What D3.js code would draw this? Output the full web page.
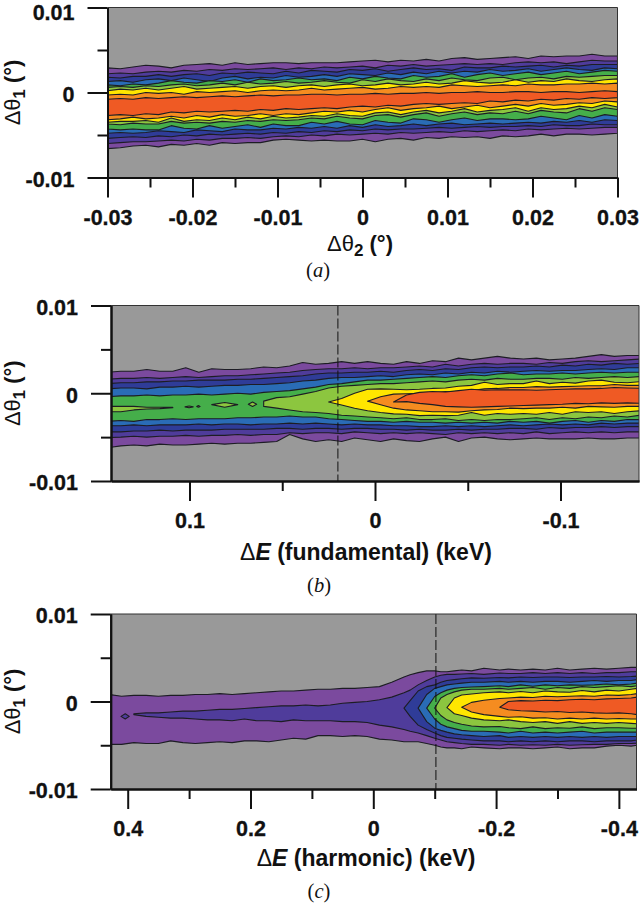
<!DOCTYPE html>
<html>
<head>
<meta charset="utf-8">
<script src="https://cdn.jsdelivr.net/npm/d3@7"></script>
<style>
	body { margin: 0; background: #fff; }
	text { font-family: "Liberation Sans", Arial, sans-serif; font-weight: bold; fill: #111; }
</style>
</head>
<body>
<svg id="chart" width="640" height="910"></svg>
<script>
// contour band colours, outermost band first
var bandColors = ["#7b4a9e", "#4f3c9b", "#2f3c98", "#2a6cb6", "#45ae4a", "#8cc63f", "#ffe600", "#f58c20", "#ef5a24"];

// all boundary values are in units of 0.001 deg
var gap = n => Array(n).fill(null);

var yTicks = [0.01, 0, -0.01];
var yTickLabels = ["0.01", "0", "-0.01"];
var yMinor = [0.005, -0.005];

// ---------- panel a ----------
var aTicks = [-0.03, -0.02, -0.01, 0, 0.01, 0.02, 0.03];
var aTickLabels = ["-0.03", "-0.02", "-0.01", "0", "0.01", "0.02", "0.03"];
var aMinor = [-0.025, -0.015, -0.005, 0.005, 0.015, 0.025];
var aStations = [-0.03, -0.0285, -0.027, -0.0255, -0.024, -0.0225, -0.021, -0.0195, -0.018, -0.0165,
	-0.015, -0.0135, -0.012, -0.0105, -0.009, -0.0075, -0.006, -0.0045, -0.003, -0.0015,
	0, 0.0015, 0.003, 0.0045, 0.006, 0.0075, 0.009, 0.0105, 0.012, 0.0135,
	0.015, 0.0165, 0.018, 0.0195, 0.021, 0.0225, 0.024, 0.0255, 0.027, 0.0285, 0.03];
var aUpper = [
	[2.9,2.8,3.0,3.2,3.1,2.9,3.2,3.3,3.4,3.2, 3.5,3.3,3.4,3.5,3.5,3.4,3.5,3.5,3.5,3.6, 3.7,3.8,3.6,3.8,3.7,3.9,3.7,4.0,4.1,3.9, 4.0,4.1,4.2,4.0,4.3,4.2,4.3,4.3,4.5,4.3,4.3],
	[2.2,2.3,2.2,2.4,2.5,2.4,2.6,2.5,2.7,2.6, 2.8,2.7,2.8,2.9,2.7,2.9,2.8,3.0,2.9,3.0, 3.1,2.9,3.2,3.1,3.3,3.1,3.2,3.3,3.4,3.3, 3.4,3.3,3.5,3.6,3.5,3.6,3.4,3.6,3.8,3.7,3.7],
	[1.8,1.7,1.9,1.9,2.1,1.9,2.1,2.2,2.0,2.3, 2.2,2.4,2.3,2.2,2.5,2.3,2.6,2.5,2.4,2.7, 2.6,2.8,2.5,2.7,2.9,2.7,2.8,2.6,3.0,2.9, 2.9,3.1,3.0,3.1,3.2,3.0,3.2,3.1,3.3,3.3,3.3],
	[1.3,1.4,1.2,1.5,1.6,1.4,1.7,1.5,1.3,1.7, 1.9,1.6,1.8,1.7,2.0,1.8,1.9,2.1,1.9,2.2, 2.1,2.0,2.3,2.1,2.4,2.2,2.5,2.3,2.5,2.4, 2.7,2.5,2.6,2.8,2.5,2.7,2.9,2.7,2.6,2.9,2.8],
	[0.9,0.8,1.0,0.9,1.1,1.4,1.2,1.1,1.4,1.3, 1.5,1.2,1.6,1.4,1.5,1.7,1.5,1.6,1.4,1.8, 1.6,1.9,1.7,1.6,2.0,1.8,1.9,2.2,1.8,2.1, 2.3,2.0,2.2,2.4,2.1,2.3,2.5,2.2,2.4,2.6,2.5],
	[0.6,0.7,0.6,0.8,0.7,0.9,1.0,0.8,0.9,1.1, 0.9,1.2,1.0,1.1,1.3,1.1,1.2,1.4,1.2,1.1, 1.5,1.3,1.6,1.4,1.3,1.6,1.4,1.7,1.5,1.4, 1.7,1.8,1.5,1.7,1.8,1.6,1.9,1.8,1.9,2.0,2.0],
	[0.2,0.4,0.3,0.5,0.3,0.5,0.7,0.4,0.5,0.6, 0.7,0.5,0.7,0.8,0.6,0.8,0.9,0.7,0.9,1.0, 0.8,0.9,1.1,0.9,1.0,1.2,1.0,1.1,1.4,1.2, 1.1,1.2,1.5,1.2,1.4,1.3,1.6,1.4,1.3,1.5,1.6],
	[-0.3,-0.2,-0.3,0.0,-0.1,0.0,-0.2,0.1,0.0,0.1, 0.2,0.0,0.2,0.3,0.2,0.3,0.5,0.3,0.4,0.5, 0.6,0.4,0.5,0.7,0.6,0.7,0.6,0.9,0.8,0.7, 0.8,0.9,0.8,1.0,0.9,0.9,1.0,1.0,1.1,1.0,1.1],
	[-0.8,-0.7,-0.8,-0.6,-0.7,-0.6,-0.5,-0.6,-0.5,-0.4, -0.5,-0.4,-0.3,-0.4,-0.3,-0.3,-0.2,-0.2,-0.3,-0.2, -0.2,-0.1,-0.2,-0.1,-0.1,0.0,-0.1,0.0,0.0,0.1, 0.0,0.0,0.1,0.1,0.0,0.1,0.1,0.0,0.1,0.2,0.1]
];
var aLower = [
	[-6.6,-6.5,-6.3,-6.2,-6.4,-6.1,-6.2,-6.0,-6.2,-5.9, -6.0,-5.9,-5.9,-5.6,-5.5,-5.6,-5.7,-5.6,-5.7,-5.7, -5.5,-5.8,-5.5,-5.4,-5.6,-5.3,-5.4,-5.2,-5.3,-5.2, -5.4,-5.1,-5.2,-5.1,-4.9,-5.1,-4.9,-4.9,-5.0,-4.9,-4.8],
	[-6.0,-5.9,-5.8,-5.8,-5.7,-5.6,-5.7,-5.5,-5.6,-5.4, -5.4,-5.3,-5.4,-5.2,-5.1,-5.2,-5.0,-5.1,-4.9,-5.0, -4.9,-4.8,-4.9,-4.7,-4.8,-4.7,-4.6,-4.7,-4.5,-4.6, -4.5,-4.4,-4.5,-4.3,-4.4,-4.3,-4.2,-4.3,-4.2,-4.1,-4.1],
	[-5.4,-5.3,-5.2,-5.3,-5.1,-5.2,-5.0,-5.1,-4.9,-5.0, -4.9,-4.8,-4.9,-4.7,-4.8,-4.6,-4.7,-4.5,-4.6,-4.4, -4.5,-4.3,-4.4,-4.3,-4.3,-4.2,-4.1,-4.2,-4.1,-4.0, -4.1,-4.0,-4.0,-3.9,-4.0,-3.8,-3.9,-3.9,-3.7,-3.8,-3.8],
	[-4.8,-4.7,-4.8,-4.7,-4.5,-4.6,-4.7,-4.4,-4.5,-4.6, -4.3,-4.4,-4.4,-4.2,-4.3,-4.1,-4.2,-4.0,-4.2,-3.9, -4.1,-3.8,-4.0,-3.9,-3.7,-3.9,-3.7,-3.6,-3.8,-3.7, -3.6,-3.7,-3.6,-3.5,-3.6,-3.4,-3.5,-3.3,-3.5,-3.2,-3.3],
	[-4.3,-4.4,-4.3,-4.4,-4.4,-3.9,-4.2,-4.3,-3.9,-4.2, -4.0,-3.8,-4.1,-3.7,-3.9,-3.9,-3.5,-3.7,-3.4,-3.7, -3.8,-3.3,-3.5,-3.6,-3.1,-3.2,-3.5,-3.2,-3.0,-3.3, -3.1,-3.1,-3.2,-3.1,-2.8,-3.0,-3.2,-2.7,-3.0,-2.6,-2.8],
	[-3.7,-3.8,-3.6,-3.7,-3.7,-3.4,-3.6,-3.5,-3.6,-3.4, -3.5,-3.3,-3.4,-3.2,-3.3,-3.2,-3.0,-3.1,-2.8,-3.0, -3.1,-2.7,-2.6,-2.9,-2.6,-2.4,-2.8,-2.5,-2.3,-2.6, -2.4,-2.5,-2.2,-2.5,-2.1,-2.3,-2.4,-1.9,-2.2,-1.8,-2.0],
	[-3.5,-3.4,-3.4,-3.3,-3.5,-3.0,-3.4,-3.2,-3.3,-3.0, -3.2,-2.9,-3.1,-2.8,-3.0,-2.9,-2.7,-2.8,-2.5,-2.7, -2.8,-2.4,-2.3,-2.6,-2.3,-2.1,-2.4,-2.2,-1.9,-2.3, -2.1,-2.0,-1.8,-2.2,-1.8,-2.0,-1.9,-1.6,-1.8,-1.4,-1.7],
	[-3.2,-3.1,-2.9,-3.1,-3.0,-2.8,-3.0,-2.7,-2.9,-2.6, -2.8,-2.7,-2.5,-2.7,-2.5,-2.6,-2.4,-2.2,-2.3,-2.1, -2.3,-2.0,-1.8,-2.1,-1.9,-1.8,-1.6,-1.9,-1.7,-1.5, -1.8,-1.6,-1.4,-1.6,-1.3,-1.5,-1.4,-1.2,-1.3,-1.0,-1.1],
	[-2.7,-2.6,-2.7,-2.5,-2.6,-2.3,-2.4,-2.2,-2.3,-2.2, -2.1,-2.2,-2.0,-2.1,-1.9,-2.0,-1.9,-1.8,-1.9,-1.7, -1.6,-1.7,-1.5,-1.6,-1.4,-1.3,-1.4,-1.3,-1.2,-1.3, -1.0,-1.1,-0.9,-1.0,-0.8,-0.9,-0.7,-0.8,-0.6,-0.7,-0.6]
];

// ---------- panel b ----------
var bTicks = [0.1, 0, -0.1];
var bTickLabels = ["0.1", "0", "-0.1"];
var bMinor = [0.05, -0.05];
var bDashed = 0.02;
var bStations = [0.144, 0.137, 0.13, 0.123, 0.116, 0.109, 0.102, 0.095, 0.088, 0.081,
	0.074, 0.067, 0.06, 0.053, 0.046, 0.039, 0.032, 0.025, 0.018, 0.011,
	0.004, -0.003, -0.01, -0.017, -0.024, -0.031, -0.038, -0.045, -0.052, -0.059,
	-0.066, -0.073, -0.08, -0.087, -0.094, -0.101, -0.108, -0.115, -0.122, -0.129, -0.136, -0.143];
var bUpper = [
	[2.4,2.5,2.5,2.7,2.5,2.5,2.9,2.4,2.8,2.7, 2.7,2.8,3.0,2.9,3.1,3.5,3.3,3.4,3.6,3.4, 3.6,3.4,3.3,3.6,3.4,3.7,3.6,4.0,3.8,4.0, 4.2,4.0,3.9,4.0,3.8,3.9,4.0,4.2,4.4,4.2,4.3,4.3],
	[1.6,1.7,1.7,1.8,1.7,1.8,1.9,1.8,1.9,2.0, 2.0,2.1,2.2,2.3,2.4,2.6,2.7,2.8,2.8,2.9, 2.8,2.9,2.9,3.0,3.1,3.0,3.3,3.1,3.3,3.4, 3.3,3.4,3.4,3.3,3.5,3.4,3.6,3.7,3.6,3.7,3.8,3.9],
	[1.1,1.2,1.2,1.3,1.3,1.4,1.4,1.5,1.5,1.5, 1.6,1.6,1.7,1.8,1.9,2.0,2.2,2.3,2.3,2.4, 2.4,2.5,2.4,2.6,2.7,2.6,2.8,2.7,2.9,3.0, 2.9,3.0,3.0,3.1,3.0,3.2,3.1,3.3,3.2,3.4,3.3,3.4],
	[0.5,0.6,0.6,0.5,0.7,0.7,0.8,0.7,0.8,0.9, 0.9,1.0,1.0,1.1,1.2,1.4,1.5,1.7,1.8,1.8, 1.9,2.0,1.9,2.1,2.2,2.1,2.3,2.2,2.4,2.3, 2.5,2.4,2.5,2.6,2.5,2.6,2.6,2.7,2.8,2.7,2.9,2.9],
	[-0.4,-0.3,-0.3,-0.2,-0.3,-0.2,-0.2,-0.1,-0.2,-0.1, 0.0,-0.1,0.1,0.2,0.3,0.5,0.7,1.0,1.1,1.3, 1.5,1.5,1.6,1.7,1.8,1.9,1.8,2.0,2.1,2.0, 2.2,2.3,2.1,2.2,2.2,2.3,2.2,2.3,2.4,2.3,2.4,2.4],
	[-1.5,-1.5,-1.5,-1.6,-1.6,-1.6, null,null,-1.3,-1.05, -1.3,null,-0.9,-0.5,-0.4,-0.1,0.2,0.6,0.8,0.9, 1.0,1.1,1.1,1.2,1.3,1.4,1.3,1.5,1.6,1.5, 1.7,1.6,1.6,1.7,1.7,1.6,1.8,1.7,1.8,1.9,1.8,1.9],
	[...gap(17), -1.0,-0.6,0.0,0.45,0.5,0.45,0.4,0.45,0.55,0.6,0.8,0.9,1.25,1.0,1.1,1.1,1.4,1.1,1.25,1.15,1.4,1.5,1.25,1.2,1.33],
	[...gap(20), -0.9,-0.4,-0.1,-0.05,0,0.05,0.2,0.2,0.3,0.5,0.55,0.65,0.65,0.75,0.7,0.75,0.8,0.85,0.85,1.0,0.9,0.9],
	[...gap(22), -1.0,-0.2,0.1,0.2,0.15,0.3,0.45,0.35,0.4,0.38,0.4,0.35,0.4,0.45,0.5,0.5,0.55,0.65,0.6,0.57]
];
var bLower = [
	[-6.2,-6.0,-5.9,-6.0,-5.8,-5.9,-5.9,-5.8,-5.7,-5.8, -5.7,-5.7,-5.6,-5.5,-4.7,-5.2,-5.5,-5.3,-5.5,-5.1, -5.3,-5.5,-5.2,-5.4,-5.5,-5.2,-5.0,-5.5,-5.1,-5.0, -5.2,-5.3,-5.2,-5.1,-5.2,-5.2,-5.2,-5.1,-5.2,-5.2,-5.1,-5.1],
	[-5.05,-5.0,-4.9,-5.0,-4.9,-4.9,-4.8,-4.9,-4.8,-4.8, -4.7,-4.8,-4.7,-4.7,-4.5,-4.6,-4.5,-4.5,-4.6,-4.4, -4.5,-4.6,-4.5,-4.6,-4.5,-4.6,-4.7,-4.5,-4.6,-4.5, -4.6,-4.5,-4.6,-4.4,-4.6,-4.5,-4.4,-4.5,-4.4,-4.5,-4.4,-4.4],
	[-4.4,-4.4,-4.3,-4.3,-4.2,-4.3,-4.2,-4.2,-4.2,-4.1, -4.1,-4.1,-4.1,-4.0,-4.0,-4.1,-4.0,-4.0,-4.1,-4.0, -4.0,-4.1,-4.1,-4.2,-4.1,-4.2,-4.2,-4.1,-4.2,-4.1, -4.1,-4.0,-4.0,-4.1,-3.9,-4.0,-3.9,-3.9,-3.8,-3.9,-3.8,-3.8],
	[-3.7,-3.7,-3.6,-3.7,-3.6,-3.6,-3.6,-3.5,-3.6,-3.5, -3.5,-3.6,-3.5,-3.5,-3.4,-3.5,-3.4,-3.5,-3.6,-3.5, -3.6,-3.6,-3.7,-3.7,-3.8,-3.8,-3.7,-3.8,-3.7,-3.8, -3.7,-3.6,-3.7,-3.6,-3.5,-3.6,-3.5,-3.6,-3.4,-3.5,-3.4,-3.4],
	[-3.2,-3.1,-3.2,-3.0,-3.0,-2.9,-3.0,-2.9,-2.9,-2.9, -2.8,-2.8,-2.7,-2.7,-2.6,-2.7,-2.7,-2.9,-3.0,-3.1, -3.2,-3.2,-3.3,-3.2,-3.3,-3.3,-3.4,-3.3,-3.4,-3.3, -3.4,-3.2,-3.3,-3.2,-3.4,-3.2,-3.1,-3.3,-3.1,-3.2,-3.0,-3.0],
	[-2.1,-2.1,-1.9,-1.8,-1.75,-1.65, null,null,-1.3,-1.6, -1.3,null,-1.5,-1.7,-1.9,-2.1,-2.2,-2.3,-2.5,-2.6, -2.7,-2.8,-2.9,-2.8,-3.0,-3.0,-2.9,-3.1,-3.0,-3.1, -3.0,-3.0,-2.9,-2.8,-3.0,-2.8,-2.9,-2.7,-2.8,-2.6,-2.7,-2.5],
	[...gap(17), -1.0,-1.33,-1.7,-2.0,-2.2,-2.35,-2.4,-2.55,-2.5,-2.55,-2.5,-2.2,-2.5,-2.3,-2.4,-2.3,-2.4,-2.2,-2.4,-2.1,-2.2,-2.1,-2.3,-2.1,-2.0],
	[...gap(20), -0.9,-1.3,-1.7,-1.9,-2.0,-2.1,-2.1,-2.15,-2.0,-1.9,-1.85,-1.7,-1.75,-1.7,-1.7,-1.6,-1.7,-1.5,-1.55,-1.6,-1.5,-1.5],
	[...gap(22), -1.0,-0.95,-1.15,-1.3,-1.5,-1.55,-1.6,-1.55,-1.5,-1.45,-1.4,-1.35,-1.3,-1.25,-1.15,-1.2,-1.1,-1.15,-1.1,-1.14]
];
// little closed contours sitting in the green band
var bIslandLevel = 5;
var bIslandE = [[0.1024, 0.1002, 0.098], [0.0961, 0.0952, 0.0943], [0.0683, 0.066, 0.0638]];
var bIslandUpper = [[-1.55, -1.45, -1.55], [-1.5, -1.4, -1.5], [-1.25, -1.0, -1.25]];
var bIslandLower = [[-1.55, -1.65, -1.55], [-1.5, -1.6, -1.5], [-1.25, -1.5, -1.25]];

// ---------- panel c ----------
var cTicks = [0.4, 0.2, 0, -0.2, -0.4];
var cTickLabels = ["0.4", "0.2", "0", "-0.2", "-0.4"];
var cMinor = [0.3, 0.1, -0.1, -0.3];
var cDashed = -0.102;
var cStations = [0.43, 0.41, 0.39, 0.37, 0.35, 0.33, 0.31, 0.29, 0.27, 0.25,
	0.23, 0.21, 0.19, 0.17, 0.15, 0.13, 0.11, 0.09, 0.07, 0.05,
	0.03, 0.01, -0.01, -0.03, -0.05, -0.06, -0.073, -0.087, -0.1, -0.11,
	-0.12, -0.132, -0.144, -0.16, -0.18, -0.206, -0.22, -0.24, -0.26, -0.28,
	-0.3, -0.32, -0.34, -0.36, -0.38, -0.4, -0.42, -0.43];
var cUpper = [
	[0.8,0.6,0.7,0.7,0.6,0.7,0.7,0.8,0.8,0.9, 0.8,0.9,1.0,1.1,1.2,1.2,1.3,1.4,1.4,1.5, 1.5,1.6,1.7,2.2,2.8,3.05,3.3,3.5,3.5,3.4, 3.4,3.5,3.6,3.5,3.8,3.6,3.7,3.6,3.7,3.6, 3.8,3.6,3.7,3.8,3.7,3.8,3.9,3.9],
	[null,null,-1.4,-1.3,-1.3,-1.2,-1.1,-1.1,-1.0,-0.9, -0.9,-0.8,-0.7,-0.6,-0.5,-0.5,-0.4,-0.5,-0.4,-0.2, -0.1,0.0,0.2,0.5,1.0,1.3,1.9,2.4,2.8,3.0, 3.1,3.1,3.15,3.2,3.1,3.25,3.2,3.2,3.3,3.2, 3.3,3.2,3.3,3.2,3.3,3.3,3.4,3.4],
	[...gap(24), -0.76,0.1,1.2,1.7,1.9,2.2,2.4,2.5,2.6,2.7,2.65,2.75,2.7,2.8,2.75,2.8,2.8,2.75,2.8,2.8,2.85,2.8,2.85,2.9],
	[...gap(26), -0.76,0.8,1.5,1.7,1.9,2.0,2.1,2.2,2.2,2.3,2.2,2.3,2.2,2.3,2.3,2.2,2.3,2.4,2.3,2.4,2.4,2.5],
	[...gap(27), -0.76,0.57,1.0,1.3,1.5,1.6,1.65,1.7,1.8,1.7,1.9,1.75,1.9,1.8,1.9,1.85,1.9,2.0,1.9,2.0,2.1],
	[...gap(28), -0.76,0.4,0.8,1.1,1.3,1.4,1.4,1.5,1.4,1.5,1.6,1.4,1.6,1.5,1.7,1.6,1.7,1.8,1.7,1.8],
	[...gap(30), -0.7,0.4,0.75,0.85,1.0,1.1,1.0,1.15,1.0,1.2,1.1,1.05,1.25,1.1,1.3,1.2,1.4,1.5],
	[...gap(32), -0.65,-0.1,0.15,0.35,0.4,0.5,0.45,0.6,0.55,0.6,0.65,0.6,0.75,0.7,0.8,0.9],
	[...gap(35), -0.65,0,0.1,0.05,0.15,0.1,0.2,0.25,0.2,0.3,0.35,0.4,0.5]
];
var cLower = [
	[-4.9,-4.9,-4.7,-4.8,-4.8,-4.5,-4.7,-4.8,-4.7,-4.6, -4.7,-4.5,-4.5,-4.6,-4.4,-4.2,-4.3,-3.9,-3.9,-4.0, -3.9,-4.0,-4.3,-4.4,-4.6,-4.6,-4.6,-4.8,-5.0,-5.2, -5.3,-5.3,-5.4,-5.2,-5.3,-5.4,-5.3,-5.3,-5.4,-5.3, -5.2,-5.4,-5.3,-5.3,-5.1,-5.0,-5.1,-5.0],
	[null,null,-1.5,-1.7,-1.8,-1.9,-1.9,-2.0,-2.1,-2.1, -2.2,-2.0,-2.2,-2.2,-2.3,-2.1,-2.2,-2.2,-2.2,-2.3, -2.3,-2.4,-2.7,-2.9,-3.2,-3.4,-3.6,-3.9,-4.2,-4.4, -4.6,-4.7,-4.8,-4.9,-4.9,-5.0,-4.9,-5.0,-4.95,-5.0, -4.9,-5.0,-4.95,-4.9,-4.9,-4.8,-4.8,-4.75],
	[...gap(24), -0.76,-1.7,-2.7,-3.2,-3.6,-3.9,-4.1,-4.2,-4.3,-4.4,-4.5,-4.5,-4.6,-4.5,-4.6,-4.5,-4.6,-4.5,-4.5,-4.6,-4.5,-4.5,-4.5,-4.4],
	[...gap(26), -0.76,-2.3,-3.05,-3.3,-3.5,-3.7,-3.8,-3.9,-4.0,-3.9,-4.1,-4.0,-4.1,-4.0,-4.1,-4.0,-4.1,-4.0,-4.1,-4.0,-4.0,-4.0],
	[...gap(27), -0.76,-2.0,-2.6,-2.9,-3.1,-3.3,-3.4,-3.4,-3.5,-3.6,-3.4,-3.6,-3.5,-3.6,-3.5,-3.4,-3.6,-3.5,-3.5,-3.5,-3.5],
	[...gap(28), -0.76,-1.6,-2.1,-2.4,-2.6,-2.8,-2.9,-2.85,-3.0,-3.1,-2.9,-3.1,-3.0,-3.05,-2.9,-3.1,-3.0,-3.0,-3.05,-3.05],
	[...gap(30), -0.7,-1.4,-1.6,-1.9,-2.1,-2.2,-2.1,-2.3,-2.4,-2.3,-2.5,-2.3,-2.5,-2.4,-2.5,-2.4,-2.5,-2.55],
	[...gap(32), -0.65,-1.2,-1.5,-1.7,-1.8,-1.75,-1.9,-1.85,-2.0,-1.9,-2.0,-1.9,-2.0,-1.95,-2.0,-2.0],
	[...gap(35), -0.65,-0.95,-1.05,-1.1,-1.2,-1.15,-1.25,-1.2,-1.3,-1.35,-1.3,-1.4,-1.5]
];
var cIslandLevel = 1;
var cIslandE = [[0.411, 0.404, 0.3975]];
var cIslandUpper = [[-1.7, -1.4, -1.7]];
var cIslandLower = [[-1.7, -2.0, -1.7]];

var svg = d3.select("#chart");

// one panel: background, nested bands, dashed marker, axes
var drawPanel = function(p) {
	var x = d3.scaleLinear().domain(p.xDomain).range([p.left, p.right]);
	var y = d3.scaleLinear().domain([-0.01, 0.01]).range([p.bottom, p.top]);
	var w = p.right - p.left, h = p.bottom - p.top;

	svg.append("clipPath").attr("id", "clip" + p.id)
		.append("rect").attr("x", p.left).attr("y", p.top).attr("width", w).attr("height", h);

	svg.append("rect")
		.attr("x", p.left).attr("y", p.top).attr("width", w).attr("height", h)
		.attr("fill", "#999999");

	var bands = svg.append("g").attr("clip-path", "url(#clip" + p.id + ")");

	var area = d3.area()
		.defined(d => d.up !== null && d.lo !== null)
		.x(d => x(d.e))
		.y0(d => y(d.lo / 1000))
		.y1(d => y(d.up / 1000));

	var drawBand = function(es, upper, lower, level) {
		var rows = es.map((e, i) => ({e: e, up: upper[i], lo: lower[i]}));
		bands.append("path")
			.attr("d", area(rows))
			.attr("fill", bandColors[level])
			.attr("stroke", "#1d1d24")
			.attr("stroke-width", 1.1)
			.attr("stroke-linejoin", "round");
	};

	p.upper.forEach((upper, level) => {
		drawBand(p.stations, upper, p.lower[level], level);
		if (p.islandLevel === level) {
			p.islandE.forEach((es, i) => drawBand(es, p.islandUpper[i], p.islandLower[i], level));
		}
	});

	if (p.dashed !== undefined) {
		svg.append("line")
			.attr("x1", x(p.dashed)).attr("x2", x(p.dashed))
			.attr("y1", p.top).attr("y2", p.bottom)
			.attr("stroke", "#111")
			.attr("stroke-width", 1)
			.attr("stroke-dasharray", "10,3");
	}

	// thin frame on the top and right sides
	svg.append("path")
		.attr("d", d3.line()([[p.left, p.top], [p.right, p.top], [p.right, p.bottom]]))
		.attr("fill", "none")
		.attr("stroke", "#333")
		.attr("stroke-width", 1);

	var bottomAxis = d3.axisBottom(x)
		.tickValues(p.ticks)
		.tickFormat((d, i) => p.tickLabels[i])
		.tickSize(20)
		.tickSizeOuter(0);
	var bottomMinor = d3.axisBottom(x).tickValues(p.minor).tickFormat("").tickSize(10).tickSizeOuter(0);
	var leftAxis = d3.axisLeft(y)
		.tickValues(yTicks)
		.tickFormat((d, i) => yTickLabels[i])
		.tickSize(20)
		.tickSizeOuter(0);
	var leftMinor = d3.axisLeft(y).tickValues(yMinor).tickFormat("").tickSize(10).tickSizeOuter(0);

	var gx = svg.append("g").attr("transform", "translate(0," + p.bottom + ")");
	gx.call(bottomMinor);
	gx.append("g").call(bottomAxis);
	var gy = svg.append("g").attr("transform", "translate(" + p.left + ",0)");
	gy.call(leftMinor);
	gy.append("g").call(leftAxis);

	svg.selectAll("g .domain, g .tick line").attr("stroke", "#111").attr("stroke-width", 2);
	gx.selectAll("text").attr("y", 32).attr("font-size", 21.5).attr("fill", "#111").attr("stroke", "#111").attr("stroke-width", 0.3).attr("font-family", null);
	// the top label of panel a sits against the page edge, so it is nudged down
	gy.selectAll("text")
		.attr("x", -33)
		.attr("y", d => (p.id === "a" && d === 0.01) ? 5.2 : 2)
		.attr("font-size", 21.5).attr("fill", "#111").attr("stroke", "#111").attr("stroke-width", 0.3).attr("font-family", null);

	// y axis title, rotated
	var yt = svg.append("text")
		.attr("transform", "translate(20," + (p.top + h / 2) + ") rotate(-90)")
		.attr("text-anchor", "middle")
		.attr("font-size", 22);
	yt.append("tspan").attr("font-weight", "normal").text("Δθ");
	yt.append("tspan").attr("dy", 5).attr("font-size", 16.5).text("1");
	yt.append("tspan").attr("dy", -5).text(" (°)");

	// x axis title
	var xt = svg.append("text")
		.attr("x", p.titleX).attr("y", p.titleY)
		.attr("text-anchor", "middle")
		.attr("font-size", p.titleSize);
	p.title.forEach(s => {
		var t = xt.append("tspan").text(s.t);
		if (s.w) t.attr("font-weight", s.w);
		if (s.i) t.attr("font-style", "italic");
		if (s.dy) t.attr("dy", s.dy);
		if (s.fs) t.attr("font-size", s.fs);
	});

	// panel letter under the axis title
	var cap = svg.append("text")
		.attr("x", p.capX).attr("y", p.capY)
		.attr("text-anchor", "middle")
		.attr("font-size", 20.5)
		.style("font-family", '"Liberation Serif", serif')
		.style("font-weight", "normal");
	cap.append("tspan").text("(");
	cap.append("tspan").attr("font-style", "italic").text(p.letter);
	cap.append("tspan").text(")");
};

drawPanel({
	id: "a", letter: "a",
	left: 107.5, right: 617.5, top: 7.5, bottom: 177.5,
	xDomain: [-0.03, 0.03],
	stations: aStations, upper: aUpper, lower: aLower,
	ticks: aTicks, tickLabels: aTickLabels, minor: aMinor,
	title: [{t: "Δθ", w: "normal"}, {t: "2", dy: 5, fs: 17}, {t: " (°)", dy: -5}],
	titleX: 360, titleY: 251, titleSize: 22, capX: 318, capY: 277
});

drawPanel({
	id: "b", letter: "b",
	left: 111, right: 639, top: 305.5, bottom: 481,
	xDomain: [0.1423, -0.1423],
	stations: bStations, upper: bUpper, lower: bLower,
	islandLevel: bIslandLevel, islandE: bIslandE, islandUpper: bIslandUpper, islandLower: bIslandLower,
	ticks: bTicks, tickLabels: bTickLabels, minor: bMinor, dashed: bDashed,
	title: [{t: "Δ", w: "normal"}, {t: "E", i: true}, {t: " (fundamental) (keV)"}],
	titleX: 366, titleY: 560, titleSize: 23, capX: 319, capY: 592
});

drawPanel({
	id: "c", letter: "c",
	left: 110.7, right: 636.5, top: 614, bottom: 789,
	xDomain: [0.4277, -0.4287],
	stations: cStations, upper: cUpper, lower: cLower,
	islandLevel: cIslandLevel, islandE: cIslandE, islandUpper: cIslandUpper, islandLower: cIslandLower,
	ticks: cTicks, tickLabels: cTickLabels, minor: cMinor, dashed: cDashed,
	title: [{t: "Δ", w: "normal"}, {t: "E", i: true}, {t: " (harmonic) (keV)"}],
	titleX: 366, titleY: 866, titleSize: 23, capX: 319, capY: 898
});
</script>
</body>
</html>
